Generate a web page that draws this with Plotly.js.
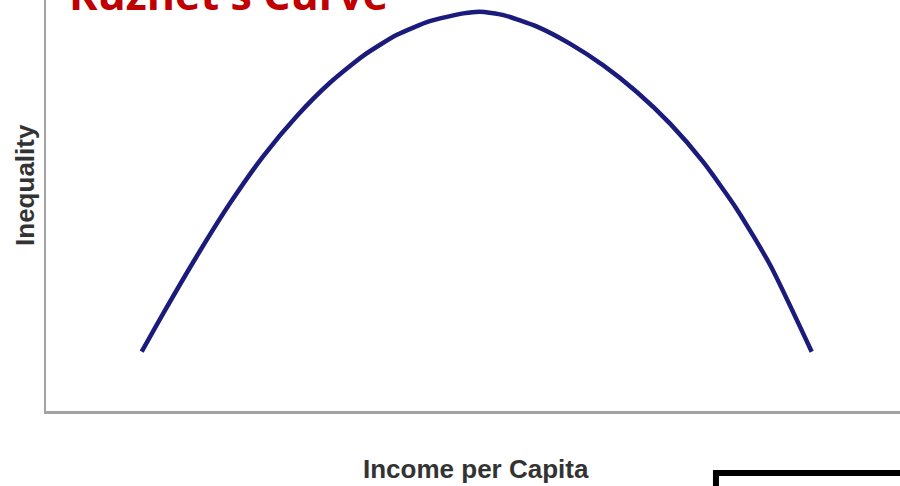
<!DOCTYPE html>
<html>
<head>
<meta charset="utf-8">
<script src="https://cdn.plot.ly/plotly-3.0.1.min.js"></script>
<style>
  html, body { margin: 0; padding: 0; background: #fff; }
  #chart { width: 900px; height: 486px; }
</style>
</head>
<body>
<div id="chart"></div>
<script>
// points (income index vs inequality index)
const incomeX     = [0, 0.32, 0.82, 1.32, 1.81, 2.31, 2.81, 3.31, 3.81, 4.30, 4.80, 5.05,
                     5.40, 5.90, 6.39, 6.89, 7.39, 7.89, 8.38, 8.88, 9.38, 10];
const inequalityY = [0, 1.12, 2.80, 4.37, 5.74, 6.92, 7.91, 8.71, 9.32, 9.72, 9.95, 10.0,
                     9.90, 9.56, 9.06, 8.42, 7.64, 6.70, 5.58, 4.20, 2.55, 0];

const chartTitle = "Kuznet's Curve";
const xTitle = 'Income per Capita';
const yTitle = 'Inequality';

const curve = {
    x: incomeX,
    y: inequalityY,
    type: 'scatter',
    mode: 'lines',
    line: { color: '#1b1b7c', width: 4.5, shape: 'spline', smoothing: 0.6 },
    hoverinfo: 'skip'
};

const axisStyle = {
    showgrid: false,
    zeroline: false,
    showticklabels: false,
    ticks: '',
    showline: true,
    linecolor: '#a3a3a3',
    linewidth: 2.5,
    fixedrange: true
};

const layout = {
    width: 900,
    height: 486,
    margin: { l: 46, r: 0, t: 0, b: 75 },
    paper_bgcolor: '#ffffff',
    plot_bgcolor: '#ffffff',
    showlegend: false,
    xaxis: Object.assign({ range: [-1.428, 11.318] }, axisStyle),
    yaxis: Object.assign({ range: [-1.744, 10.344] }, axisStyle),
    annotations: [
        {
            text: chartTitle, xref: 'paper', yref: 'paper',
            x: 0.0246, y: 1, xanchor: 'left', yanchor: 'middle', yshift: 7,
            showarrow: false,
            font: { family: 'Open Sans', size: 43, color: '#c00000', weight: 'bold' }
        },
        {
            text: '<b>' + yTitle + '</b>', xref: 'paper', yref: 'paper',
            x: -0.0246, y: 0.55, xanchor: 'center', yanchor: 'middle',
            textangle: -90, showarrow: false,
            font: { family: 'Liberation Sans', size: 26, color: '#333333' }
        },
        {
            text: '<b>' + xTitle + '</b>', xref: 'paper', yref: 'paper',
            x: 0.5035, y: -0.141, xanchor: 'center', yanchor: 'middle',
            showarrow: false,
            font: { family: 'Liberation Sans', size: 26, color: '#333333' }
        }
    ],
    shapes: [
        {
            type: 'rect', xref: 'paper', yref: 'paper',
            x0: 0.7845, x1: 1.05, y0: -0.1509, y1: -0.3,
            line: { color: '#000000', width: 6 },
            fillcolor: 'rgba(0,0,0,0)'
        }
    ]
};

Plotly.newPlot('chart', [curve], layout, { displayModeBar: false, staticPlot: true });
</script>
</body>
</html>
